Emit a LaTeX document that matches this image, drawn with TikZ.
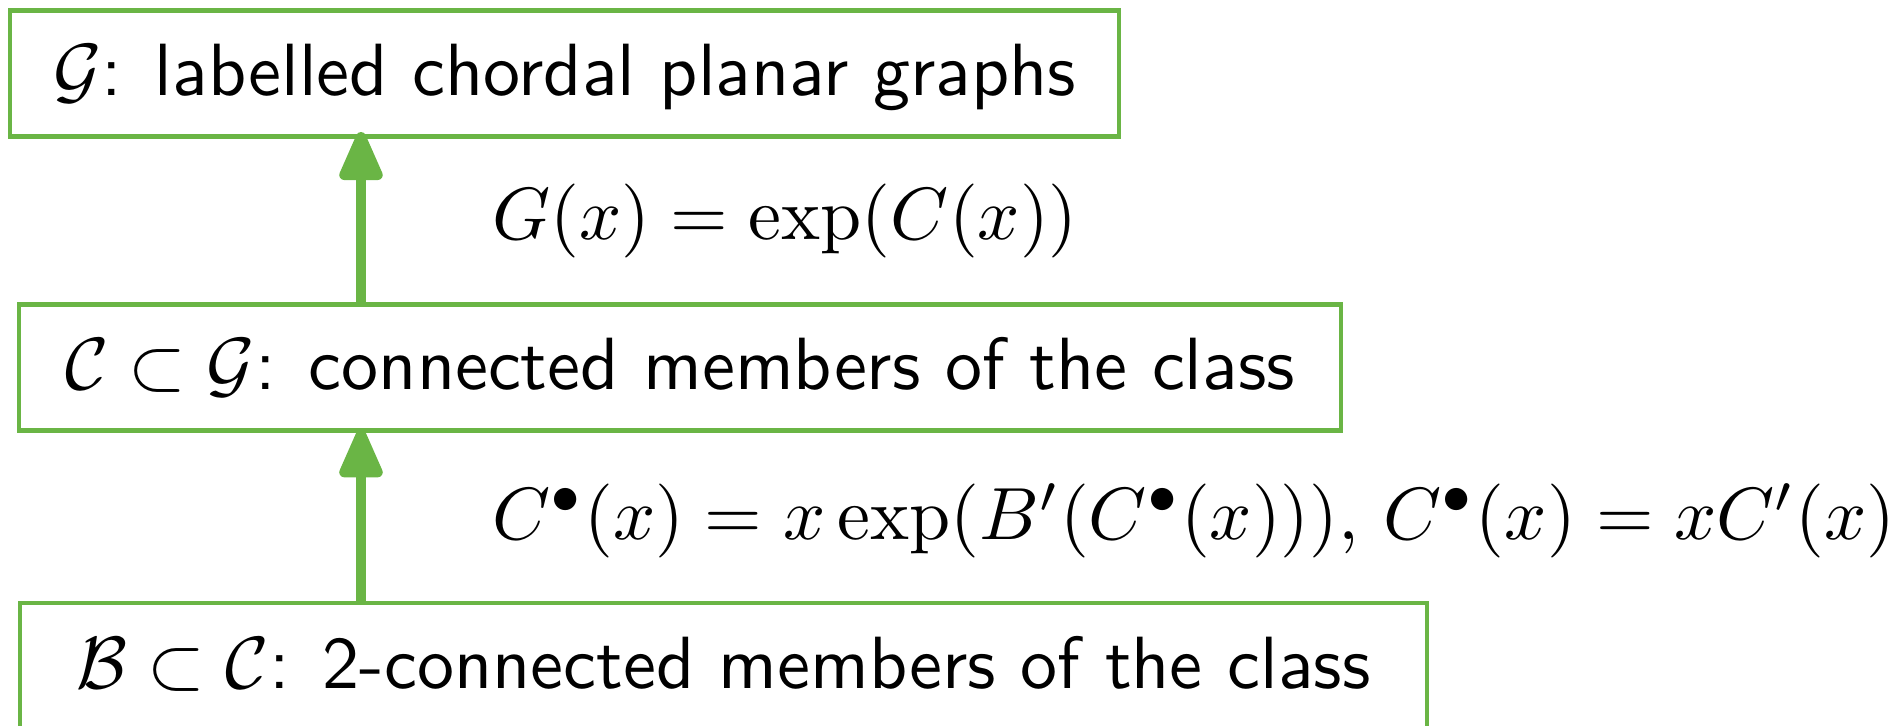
\documentclass[tikz,border=0pt]{standalone}
\usetikzlibrary{arrows.meta}
\newlength\pxu
\setlength\pxu{0.13514pt}
\definecolor{boxgreen}{RGB}{106,181,69}
\begin{document}
\begin{tikzpicture}[x=0.13514pt,y=-0.13514pt,
  box/.style={draw=boxgreen, line width=4.6\pxu, inner sep=0pt, text height=8pt, text depth=2pt, font=\fontsize{10}{12}\selectfont\sffamily},
  arr/.style={draw=boxgreen, line width=1.35pt, -{Triangle[round, width=6.2pt, length=7.6pt]}},
  lbl/.style={anchor=base west, inner sep=0pt, font=\fontsize{10}{12}\selectfont}]
\useasboundingbox (0,0) rectangle (1902,726);
\node[box, minimum width=1109\pxu, minimum height=126.2\pxu] (top) at (564.5,73.6) {$\mathcal{G}$: labelled chordal planar graphs};
\node[box, minimum width=1322\pxu, minimum height=126\pxu] (mid) at (680,367.5) {$\mathcal{C}\subset\mathcal{G}$: connected members of the class};
\node[box, minimum width=1407\pxu, minimum height=126\pxu] (bot) at (723.5,666) {$\mathcal{B}\subset\mathcal{C}$: 2-connected members of the class};
\coordinate (ax) at (361,0);
\draw[arr, shorten >=-0.946pt] (mid.north -| ax) -- (top.south -| ax);
\draw[arr, shorten >=-0.473pt] (bot.north -| ax) -- (mid.south -| ax);
\node[lbl] (l1) at (491,239) {$G(x)=\exp(C(x))$};
\node[lbl] (l2) at (491,539) {$C^\bullet(x) = x\exp(B'(C^\bullet(x)))$, $C^\bullet(x) = xC'(x)$};
\end{tikzpicture}
\end{document}
